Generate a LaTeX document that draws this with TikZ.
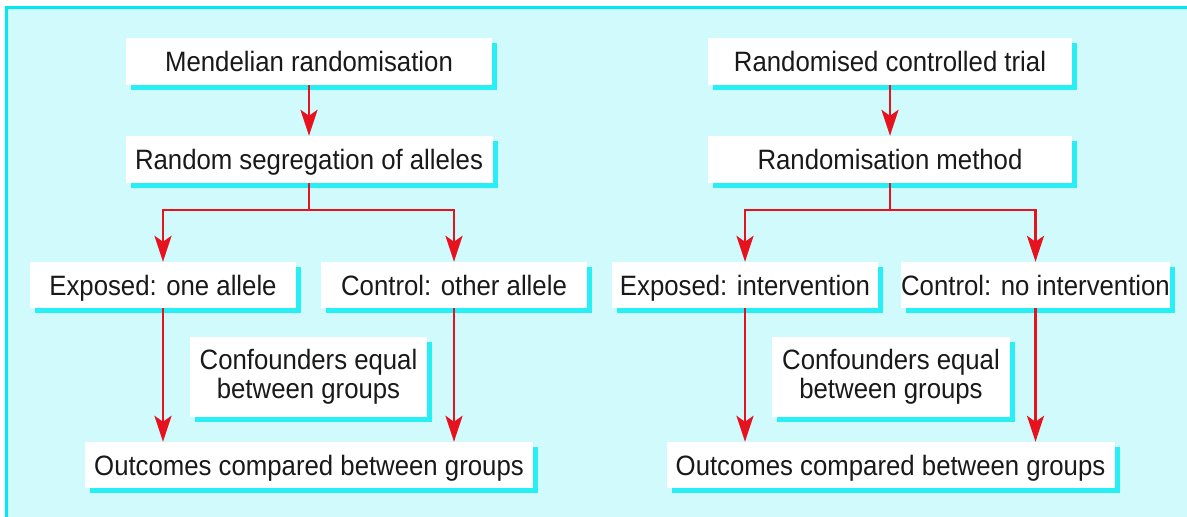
\documentclass[tikz,border=0pt]{standalone}
\usepackage{fontspec}
\setmainfont{Liberation Sans}[FakeStretch=0.92]
\usetikzlibrary{arrows.meta,shadows}
\definecolor{bgcyan}{RGB}{208,250,251}
\definecolor{framecyan}{RGB}{0,232,240}
\definecolor{shcyan}{RGB}{40,238,245}
\definecolor{arrred}{RGB}{230,18,30}
\definecolor{txt}{RGB}{25,25,25}
\tikzset{
  box/.style={fill=white, draw=none, inner sep=0pt, align=center,
    text=txt, font=\fontsize{28}{31}\selectfont,
    general shadow={fill=shcyan, shadow xshift=5pt, shadow yshift=-5pt}},
  onebox/.style={box, text height=20pt, text depth=0pt},
  arr/.style={draw=arrred, line width=2.6pt,
    -{Stealth[length=26pt,width=17pt,inset=6pt]}},
  ln/.style={draw=arrred, line width=2.6pt}
}
\begin{document}
\begin{tikzpicture}[x=1pt,y=-1pt]
\useasboundingbox (0,0) rectangle (1187,517);
\fill[bgcyan] (6,7) rectangle (1200,530);
\draw[framecyan, line width=3pt] (6,540) -- (6,7) -- (1200,7);

% left column
\node[onebox, minimum width=366pt, minimum height=47pt] (m1) at (309,61.5) {Mendelian randomisation};
\node[onebox, minimum width=367pt, minimum height=47pt] (m2) at (309,159.5) {Random segregation of alleles};
\node[onebox, minimum width=266pt, minimum height=46pt] (m3) at (163,285) {Exposed: one allele};
\node[onebox, minimum width=266pt, minimum height=46pt] (m4) at (454,285) {Control: other allele};
\node[box, minimum width=237pt, minimum height=80pt] (m5) at (308.5,377) {Confounders equal\\[-2pt]between groups};
\node[onebox, minimum width=448pt, minimum height=46pt] (m6) at (309,465) {Outcomes compared between groups};

% right column
\node[onebox, minimum width=364pt, minimum height=47pt] (r1) at (890,61.5) {Randomised controlled trial};
\node[onebox, minimum width=364pt, minimum height=47pt] (r2) at (890,159.5) {Randomisation method};
\node[onebox, minimum width=266pt, minimum height=46pt] (r3) at (745,285) {Exposed: intervention};
\node[onebox, minimum width=265pt, minimum height=46pt] (r4) at (1035.5,285) {Control: no intervention};
\node[box, minimum width=238pt, minimum height=80pt] (r5) at (891,377) {Confounders equal\\[-2pt]between groups};
\node[onebox, minimum width=448pt, minimum height=46pt] (r6) at (890.5,465) {Outcomes compared between groups};

% connectors left
\draw[arr] (m1.south) -- (m2.north);
\coordinate (ls) at (309,210);
\draw[ln] (m2.south) -- (ls);
\draw[arr] (ls) -| (m3.north);
\draw[arr] (ls) -| (m4.north);
\draw[arr] (m3.south) -- (m3.south |- m6.north);
\draw[arr] (m4.south) -- (m4.south |- m6.north);

% connectors right
\draw[arr] (r1.south) -- (r2.north);
\coordinate (rs) at (890,210);
\draw[ln] (r2.south) -- (rs);
\draw[arr] (rs) -| (r3.north);
\draw[arr] (rs) -| (r4.north);
\draw[arr] (r3.south) -- (r3.south |- r6.north);
\draw[arr] (r4.south) -- (r4.south |- r6.north);
\end{tikzpicture}
\end{document}
